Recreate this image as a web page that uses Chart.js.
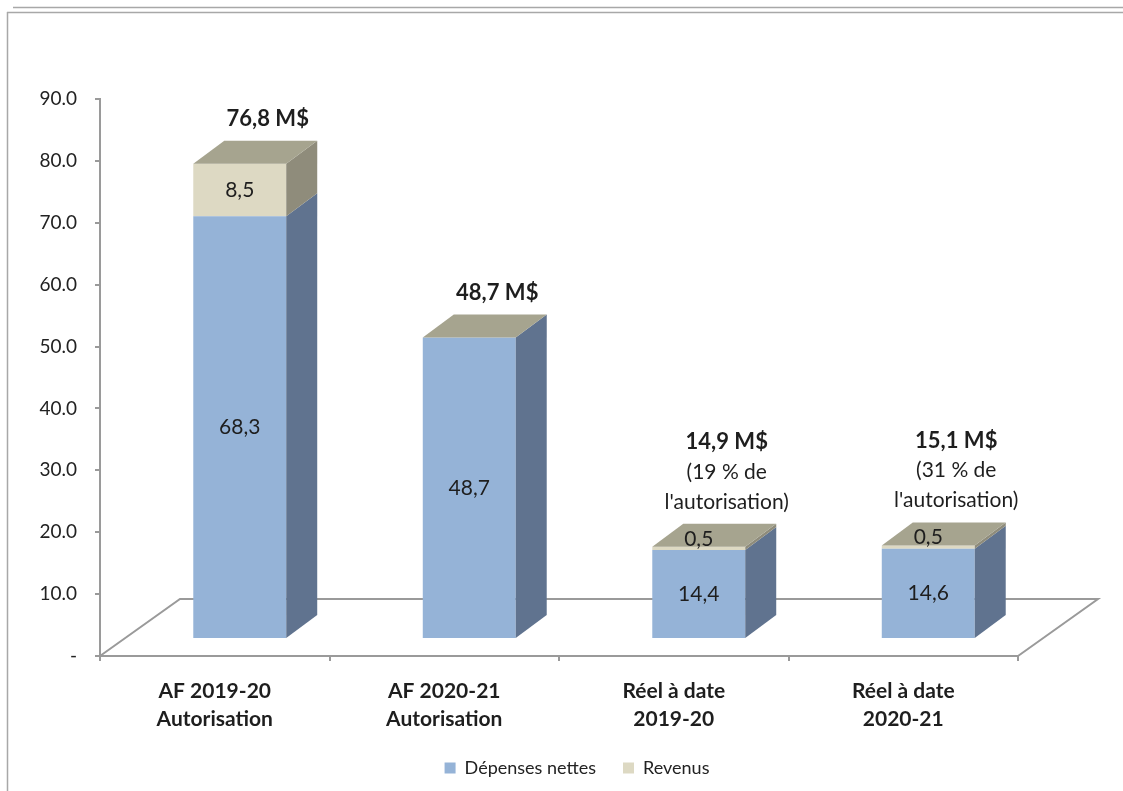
<!DOCTYPE html>
<html>
<head>
<meta charset="utf-8">
<script src="https://cdn.jsdelivr.net/npm/chart.js@4"></script>
<style>
  body { margin: 0; background: #fff; }
  #wrap { width: 1123px; height: 791px; position: relative; }
</style>
</head>
<body>
<div id="wrap"><canvas id="budget-chart" width="1123" height="791"></canvas></div>
<script>
var categories = [
  ['AF 2019-20', 'Autorisation'],
  ['AF 2020-21', 'Autorisation'],
  ['Réel à date', '2019-20'],
  ['Réel à date', '2020-21']
];
var depensesNettes = [68.3, 48.7, 14.4, 14.6];
var revenus = [8.5, 0, 0.5, 0.5];
var notes = [[], [], ['(19 % de', "l'autorisation)"], ['(31 % de', "l'autorisation)"]];
var yTicks = [0, 10, 20, 30, 40, 50, 60, 70, 80, 90];

// 3D look: shift of the front faces, depth of the bars, depth of the floor
var shift = { x: 25, y: -17 };
var depth = { x: 31, y: -23 };
var floorDepth = { x: 80, y: -57 };
var legendCenter = 577;

var colors = {
  depFront: '#95b3d7', depSide: '#60738f',
  revFront: '#ddd9c3', revSide: '#8f8c7b', top: '#a6a48f',
  axis: '#9a9a9a', text: '#1e1e1e'
};

function fmt(v) {
  return v.toFixed(1).replace('.', ',');
}

var threeD = {
  id: 'threeD',
  afterLayout: function (chart) {
    // legend sits a bit right of the canvas centre
    var lg = chart.legend;
    var dx = legendCenter - (lg.left + lg.right) / 2;
    lg.left += dx;
    lg.right += dx;
  },
  beforeDatasetsDraw: function (chart) {
    var ctx = chart.ctx;
    var a = chart.chartArea;
    // floor
    ctx.save();
    ctx.strokeStyle = colors.axis;
    ctx.lineWidth = 2;
    ctx.beginPath();
    ctx.moveTo(a.left, a.bottom);
    ctx.lineTo(a.left + floorDepth.x, a.bottom + floorDepth.y);
    ctx.lineTo(a.right + floorDepth.x, a.bottom + floorDepth.y);
    ctx.lineTo(a.right, a.bottom);
    ctx.stroke();
    ctx.restore();
    // bars front faces are drawn shifted
    ctx.save();
    ctx.translate(shift.x, shift.y);
  },
  afterDatasetsDraw: function (chart) {
    var ctx = chart.ctx;
    var sideColors = [colors.depSide, colors.revSide];
    var lastMeta = chart.getDatasetMeta(chart.data.datasets.length - 1);

    // side faces
    chart.data.datasets.forEach(function (ds, d) {
      chart.getDatasetMeta(d).data.forEach(function (bar) {
        var p = bar.getProps(['x', 'y', 'base', 'width'], true);
        var right = p.x + p.width / 2;
        var top = Math.min(p.y, p.base), bottom = Math.max(p.y, p.base);
        if (bottom - top <= 0) return;
        ctx.fillStyle = sideColors[d];
        ctx.beginPath();
        ctx.moveTo(right, top);
        ctx.lineTo(right + depth.x, top + depth.y);
        ctx.lineTo(right + depth.x, bottom + depth.y);
        ctx.lineTo(right, bottom);
        ctx.closePath();
        ctx.fill();
      });
    });

    // top faces
    lastMeta.data.forEach(function (bar) {
      var p = bar.getProps(['x', 'y', 'base', 'width'], true);
      var left = p.x - p.width / 2, right = p.x + p.width / 2;
      var top = Math.min(p.y, p.base);
      ctx.fillStyle = colors.top;
      ctx.beginPath();
      ctx.moveTo(left, top);
      ctx.lineTo(left + depth.x, top + depth.y);
      ctx.lineTo(right + depth.x, top + depth.y);
      ctx.lineTo(right, top);
      ctx.closePath();
      ctx.fill();
    });

    // values inside the segments
    ctx.fillStyle = colors.text;
    ctx.textAlign = 'center';
    ctx.textBaseline = 'middle';
    ctx.font = '21px Lato, sans-serif';
    chart.data.datasets.forEach(function (ds, d) {
      chart.getDatasetMeta(d).data.forEach(function (bar, i) {
        var v = ds.data[i];
        if (!v) return;
        var p = bar.getProps(['x', 'y', 'base'], true);
        var top = Math.min(p.y, p.base), bottom = Math.max(p.y, p.base);
        var y = bottom - top < 12 ? top - 8 : (top + bottom) / 2;
        ctx.fillText(fmt(v), p.x, y);
      });
    });

    // totals above the bars
    lastMeta.data.forEach(function (bar, i) {
      var p = bar.getProps(['x', 'y'], true);
      var total = depensesNettes[i] + revenus[i];
      var lines = [fmt(total) + ' M$'].concat(notes[i]);
      var yBack = p.y + depth.y;
      var x = p.x + 28;
      for (var k = 0; k < lines.length; k++) {
        var y = yBack - 22 - (lines.length - 1 - k) * 30;
        ctx.font = k === 0 ? 'bold 22px Lato, sans-serif' : '21px Lato, sans-serif';
        ctx.fillText(lines[k], x, y);
      }
    });

    ctx.restore();
  },
  afterDraw: function (chart) {
    // frame
    var ctx = chart.ctx;
    ctx.save();
    ctx.strokeStyle = '#a8a8a8';
    ctx.lineWidth = 1.5;
    ctx.beginPath();
    ctx.moveTo(13, 7.5); ctx.lineTo(1123, 7.5);
    ctx.moveTo(7, 12.5); ctx.lineTo(1123, 12.5);
    ctx.moveTo(7.5, 12); ctx.lineTo(7.5, 791);
    ctx.stroke();
    ctx.restore();
  }
};

var ctx = document.getElementById('budget-chart').getContext('2d');
new Chart(ctx, {
  type: 'bar',
  data: {
    labels: categories,
    datasets: [{
      label: 'Dépenses nettes',
      data: depensesNettes,
      backgroundColor: colors.depFront,
      borderWidth: 0
    }, {
      label: 'Revenus',
      data: revenus,
      backgroundColor: colors.revFront,
      borderWidth: 0
    }]
  },
  options: {
    responsive: false,
    animation: false,
    devicePixelRatio: 1,
    layout: { padding: { left: 7, top: 99, right: 105, bottom: 4 } },
    datasets: { bar: { barPercentage: 0.405, categoryPercentage: 1 } },
    plugins: {
      legend: {
        position: 'bottom',
        labels: {
          boxWidth: 11, boxHeight: 11, padding: 27,
          color: '#222', font: { family: 'Lato', size: 18 }
        }
      },
      tooltip: { enabled: false }
    },
    scales: {
      x: {
        stacked: true,
        grid: { display: true, drawOnChartArea: false, drawTicks: true, tickLength: 5, color: colors.axis, lineWidth: 2 },
        border: { display: true, color: colors.axis, width: 2 },
        ticks: {
          color: colors.text, padding: 17,
          font: { family: 'Lato', size: 21, weight: 'bold', lineHeight: 1.3 },
          maxRotation: 0
        },
        afterFit: function (scale) { scale.height = 76; }
      },
      y: {
        stacked: true,
        min: 0,
        max: 90,
        afterBuildTicks: function (scale) {
          scale.ticks = yTicks.map(function (v) { return { value: v }; });
        },
        grid: { display: true, drawOnChartArea: false, drawTicks: true, tickLength: 5, color: colors.axis, lineWidth: 2 },
        border: { display: true, color: colors.axis, width: 2 },
        ticks: {
          color: '#222', padding: 18,
          font: { family: 'Lato', size: 19 },
          callback: function (v) { return v === 0 ? '-' : v.toFixed(1); }
        },
        afterFit: function (scale) { scale.width = 93; }
      }
    }
  },
  plugins: [threeD]
});
</script>
</body>
</html>
